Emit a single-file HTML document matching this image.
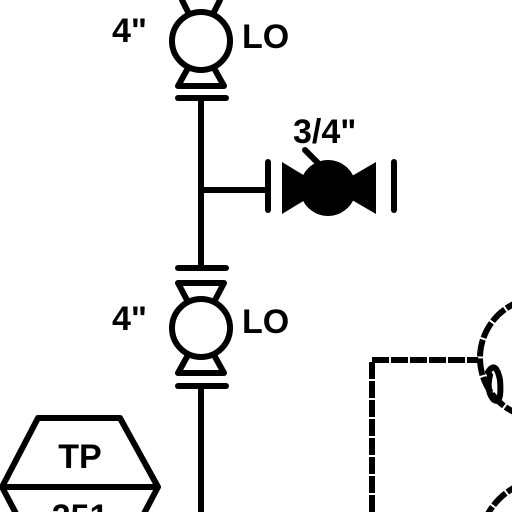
<!DOCTYPE html>
<html><head><style>html,body{margin:0;background:#fff;overflow:hidden;width:512px;height:512px}svg{display:block}text{font-family:"Liberation Sans",sans-serif;font-weight:bold;fill:#000}</style></head>
<body>
<svg width="512" height="512" viewBox="0 0 512 512" style="overflow:hidden">
<g stroke="#000" stroke-width="6" fill="none" stroke-linecap="round" stroke-linejoin="round">
 <g>
  <path d="M182 0 L189 14 M220 0 L213 14"/>
  <circle cx="201" cy="41" r="29"/>
  <path d="M188 68 L178 86 L224 86 L214 68"/>
  <line x1="178" y1="98" x2="226" y2="98"/>
 </g>
 <line x1="201" y1="98" x2="201" y2="268"/>
 <line x1="201" y1="190" x2="268" y2="190"/>
 <line x1="268" y1="162" x2="268" y2="210"/>
 <line x1="394" y1="162" x2="394" y2="210"/>
 <g>
  <line x1="178" y1="268" x2="226" y2="268"/>
  <path d="M178 283 L224 283 L214 302 M178 283 L188 302"/>
  <circle cx="201" cy="328" r="29"/>
  <path d="M188 355 L178 373 L224 373 L214 355"/>
  <line x1="178" y1="386" x2="226" y2="386"/>
 </g>
 <line x1="201" y1="386" x2="201" y2="512"/>
 <g>
  <path d="M2 487 L38 418 L120 418 L158 487 L130 540 M2 487 L30 540 M2 487 L158 487"/>
 </g>
 <g stroke-dasharray="17 2" stroke-linecap="butt">
  <path d="M372 512 L372 360 L478 360"/>
  <circle cx="540" cy="358" r="60"/>
  <circle cx="545" cy="545" r="65"/>
 </g>
 <path d="M488 372 Q496 360 500 380 Q502 405 494 400 Q486 392 490 375"/>
 <line x1="318" y1="163" x2="305" y2="150"/>
</g>
<g fill="#000">
 <circle cx="328" cy="188" r="28"/>
 <path d="M282 162 L305 176 L305 200 L282 214 Z"/>
 <path d="M376 162 L352 176 L352 200 L376 214 Z"/>
</g>
<text x="112" y="42" font-size="34">4"</text>
<text x="242" y="48" font-size="34">LO</text>
<text x="112" y="330" font-size="34">4"</text>
<text x="242" y="333" font-size="34">LO</text>
<text x="293" y="143" font-size="34">3/4"</text>
<text x="80" y="468" font-size="34" text-anchor="middle">TP</text>
<text x="80" y="528" font-size="34" text-anchor="middle">251</text>
</svg>
</body></html>
